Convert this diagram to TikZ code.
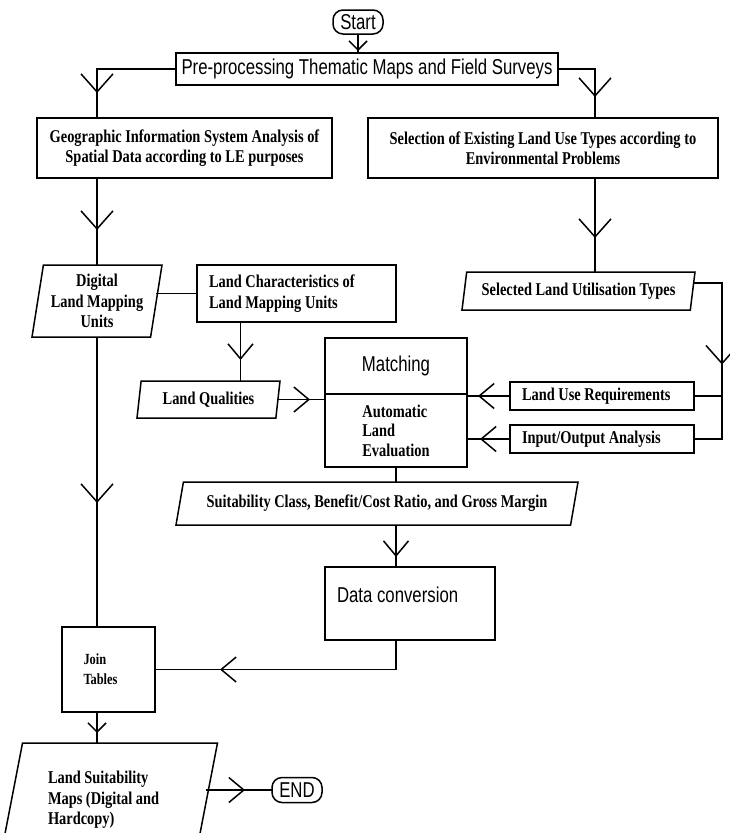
\documentclass[tikz,border=0pt]{standalone}
\usepackage{fontspec}
\setmainfont{Liberation Serif}[FakeStretch=0.8]
\setsansfont{Liberation Sans}[FakeStretch=0.78]
\usetikzlibrary{shapes,arrows.meta,positioning,decorations.markings}

\begin{document}
\begin{tikzpicture}[x=1pt,y=-1pt,line width=1.5pt,
                    box/.style={draw,rectangle,inner sep=0pt,outer sep=0pt,align=center,
                                font=\fontsize{18}{20.5}\selectfont\bfseries},
                    para/.style={draw,trapezium,trapezium stretches body,inner sep=0pt,
                                 outer sep=0pt,align=center,
                                 font=\fontsize{18}{20.5}\selectfont\bfseries},
                    sans/.style={font=\sffamily\fontsize{21.5}{24}\selectfont},
                    term/.style={draw,rectangle,rounded corners=10pt,inner sep=0pt,
                                 outer sep=0pt,sans},
                    flow/.style={postaction=decorate,decoration={markings,
                                 mark=at position #1 with {\arrow{Straight Barb[length=15pt,width=25pt]}}}},
                    bigflow/.style={postaction=decorate,decoration={markings,
                                 mark=at position #1 with {\arrow{Straight Barb[length=18pt,width=32pt]}}}},
                    smallflow/.style={postaction=decorate,decoration={markings,
                                 mark=at position #1 with {\arrow{Straight Barb[length=9pt,width=18pt]}}}}]

  \path[use as bounding box] (0,0) rectangle (730,833);
  \clip (0,0) rectangle (730,833);

  \node[term,minimum width=50pt,minimum height=24pt] (start) at (358,22) {Start};
  \node[box,sans,minimum width=382pt,minimum height=32pt] (prep) at (367,69)
       {Pre-processing Thematic Maps and Field Surveys};
  \node[box,minimum width=295pt,minimum height=60pt] (gis) at (184.5,148)
       {Geographic Information System Analysis of\\Spatial Data according to LE purposes};
  \node[box,minimum width=350pt,minimum height=60pt] (sel) at (543,148)
       {Selection of Existing Land Use Types according to\\Environmental Problems};

  \node[para,trapezium left angle=78,trapezium right angle=102,
        minimum width=130pt,minimum height=72pt] (dig) at (97,301)
       {Digital\\Land Mapping\\Units};
  \node[box,align=flush left,text width=175pt,minimum width=199pt,minimum height=57pt]
       (lchar) at (296.5,293.5) {Land Characteristics of\\Land Mapping Units};
  \node[para,trapezium left angle=74,trapezium right angle=106,
        minimum width=233pt,minimum height=38pt] (lut) at (578.5,291)
       {Selected Land Utilisation Types};
  \node[para,trapezium left angle=75,trapezium right angle=105,
        minimum width=143pt,minimum height=37pt] (lq) at (208.5,399.5) {Land Qualities};

  % matching block, two stacked halves
  \node[box,sans,minimum width=142pt,minimum height=56pt] (matchtop) at (396,366) {Matching};
  \node[box,align=flush left,minimum width=142pt,minimum height=73pt,below=0pt of matchtop,
        font=\fontsize{18}{19.5}\selectfont\bfseries] (matchbot) {Automatic\\Land\\Evaluation};

  \node[box,align=flush left,text width=160pt,minimum width=184pt,minimum height=28pt]
       (lur) at (602,396) {Land Use Requirements};
  \node[box,align=flush left,text width=160pt,minimum width=184pt,minimum height=28pt]
       (io) at (602,439) {Input/Output Analysis};

  \node[para,trapezium left angle=66,trapezium right angle=114,
        minimum width=402pt,minimum height=43pt] (suit) at (377,503.5)
       {Suitability Class, Benefit/Cost Ratio, and Gross Margin};
  \node[box,sans,align=flush left,text width=146pt,text depth=18pt,
        minimum width=170pt,minimum height=73pt] (dconv) at (410,603.5) {Data conversion};
  \node[box,align=flush left,text width=50pt,minimum width=93pt,minimum height=85pt,
        font=\fontsize{15.5}{20}\selectfont\bfseries] (join) at (108.5,669.5) {Join\\Tables};
  \node[para,align=flush left,text width=122pt,trapezium left angle=69,trapezium right angle=111,
        minimum width=217pt,minimum height=114pt] (lsm) at (109,800)
       {Land Suitability\\Maps (Digital and\\Hardcopy)};
  \node[term,minimum width=50pt,minimum height=25pt] (end) at (297,790) {END};

  % connectors
  \draw[smallflow=-2pt] (start.south) -- (start.south |- prep.north);
  \draw[bigflow=-25pt] (prep.west) -| (dig.north |- gis.north);
  \draw[bigflow=-21pt] (prep.east) -| ([xshift=52pt]sel.north);
  \draw[bigflow=-35pt] (gis.south -| dig.north) -- (dig.north);
  \draw[bigflow=-34pt] ([xshift=52pt]sel.south) -- ([xshift=52pt]sel.south |- lut.north);
  \draw (lchar.west) -- (lchar.west -| dig.east);
  \draw[flow=-21pt] ([xshift=-56pt]lchar.south) -- ([xshift=-56pt]lchar.south |- lq.north);
  \draw[flow=-15pt] (lq.east) -- (lq.east -| matchbot.west);
  \draw[bigflow=110pt] (lut.4) -| ([xshift=28pt]io.east) -- (io.east);
  \draw (lur.east) -- ([xshift=28pt]lur.east);
  \draw[flow=-11pt] (lur.west) -- (lur.west -| matchbot.east);
  \draw[flow=-13pt] (io.west) -- (io.west -| matchbot.east);
  \draw (matchbot.south) -- (matchbot.south |- suit.north);
  \draw[flow=-10pt] (suit.south -| matchbot.south) -- (dconv.north -| matchbot.south);
  \draw[flow=-65pt] (dconv.south -| matchbot.south) |- (join.east);
  \draw[bigflow=-124pt] (dig.south) -- (dig.south |- join.north);
  \draw[smallflow=-10pt] (join.south -| dig.south) -- (lsm.north -| dig.south);
  \draw[flow=-27pt] (lsm.east |- end.west) -- (end.west);
\end{tikzpicture}
\end{document}
